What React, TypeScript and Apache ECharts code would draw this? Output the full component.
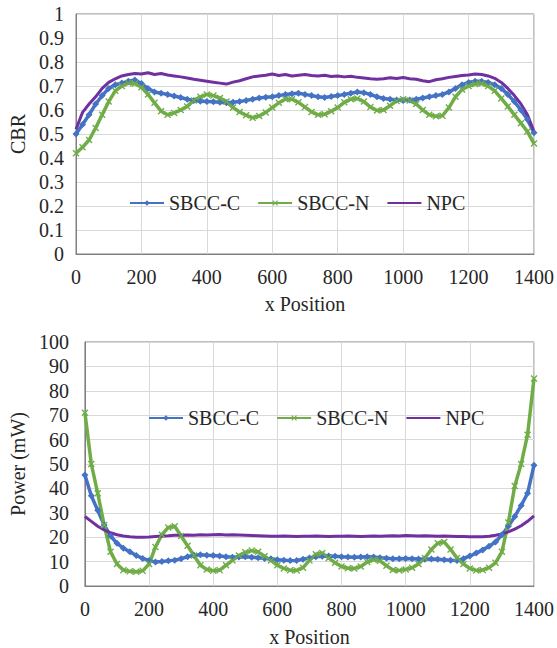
import React, { useEffect, useRef } from 'react';
import * as echarts from 'echarts';

const xPositions = [
  0, 20, 40, 60, 80, 100, 120, 140, 160, 180, 200, 220, 240, 260, 280, 300, 320, 340, 360, 380,
  400, 420, 440, 460, 480, 500, 520, 540, 560, 580, 600, 620, 640, 660, 680, 700, 720, 740, 760, 780,
  800, 820, 840, 860, 880, 900, 920, 940, 960, 980, 1000, 1020, 1040, 1060, 1080, 1100, 1120, 1140, 1160, 1180,
  1200, 1220, 1240, 1260, 1280, 1300, 1320, 1340, 1360, 1380, 1400,
];

const cbrSbccC = [
  0.50, 0.54, 0.58, 0.625, 0.66, 0.69, 0.705, 0.712, 0.72, 0.725, 0.71, 0.69, 0.675, 0.67, 0.665, 0.658, 0.652, 0.645, 0.64, 0.636,
  0.635, 0.634, 0.632, 0.63, 0.632, 0.635, 0.64, 0.645, 0.65, 0.653, 0.655, 0.66, 0.665, 0.668, 0.67, 0.665, 0.66, 0.655, 0.652, 0.656,
  0.66, 0.665, 0.67, 0.675, 0.672, 0.665, 0.655, 0.648, 0.645, 0.642, 0.64, 0.642, 0.645, 0.65, 0.655, 0.66, 0.665, 0.675, 0.69, 0.705,
  0.715, 0.72, 0.72, 0.715, 0.705, 0.69, 0.665, 0.635, 0.60, 0.56, 0.505,
];

const cbrSbccN = [
  0.42, 0.445, 0.475, 0.525, 0.58, 0.635, 0.68, 0.70, 0.712, 0.71, 0.695, 0.665, 0.63, 0.595, 0.58, 0.588, 0.60, 0.615, 0.64, 0.655,
  0.665, 0.66, 0.65, 0.635, 0.61, 0.592, 0.578, 0.568, 0.575, 0.59, 0.61, 0.63, 0.645, 0.645, 0.632, 0.612, 0.592, 0.58, 0.582, 0.595,
  0.61, 0.632, 0.645, 0.648, 0.635, 0.612, 0.598, 0.60, 0.618, 0.638, 0.645, 0.64, 0.625, 0.60, 0.58, 0.574, 0.576, 0.61, 0.655, 0.685,
  0.70, 0.708, 0.71, 0.70, 0.68, 0.648, 0.615, 0.58, 0.545, 0.51, 0.46,
];

const cbrNpc = [
  0.52, 0.59, 0.625, 0.655, 0.69, 0.715, 0.73, 0.742, 0.748, 0.752, 0.75, 0.755, 0.748, 0.752, 0.746, 0.742, 0.738, 0.733, 0.728, 0.724,
  0.72, 0.716, 0.712, 0.708, 0.716, 0.722, 0.73, 0.738, 0.742, 0.745, 0.75, 0.744, 0.748, 0.742, 0.745, 0.748, 0.744, 0.742, 0.745, 0.74,
  0.742, 0.738, 0.741, 0.736, 0.733, 0.73, 0.728, 0.73, 0.734, 0.731, 0.735, 0.73, 0.728, 0.722, 0.718, 0.726, 0.73, 0.736, 0.74, 0.744,
  0.746, 0.75, 0.748, 0.742, 0.732, 0.715, 0.69, 0.66, 0.625, 0.58, 0.51,
];

const powerSbccC = [
  45.5, 37, 31, 25, 20.5, 17.5, 15.5, 14, 12.5, 11.3, 10.5, 9.8, 10, 10.3, 10.6, 11.2, 12, 12.6, 12.8, 12.6,
  12.5, 12.3, 12, 11.8, 11.9, 12, 11.8, 11.6, 11.3, 11.2, 10.8, 10.6, 10.4, 10.5, 11, 11.5, 12, 12.2, 12.3, 12.2,
  12, 11.9, 11.8, 11.9, 12, 11.9, 11.6, 11.4, 11.2, 11.2, 11.3, 11.2, 11.1, 11, 11.1, 11, 10.8, 10.6, 10.5, 11.2,
  12.3, 13.5, 14.8, 16.3, 18, 21, 24.5, 28.5, 33, 38, 49.5,
];

const powerSbccN = [
  71, 50, 38, 25, 14, 9, 6.5, 6, 5.8, 6.2, 9, 16, 21, 24, 24.5, 20.5, 16.5, 12.5, 8.5, 6.8,
  6.3, 6.5, 8.5, 10.5, 12.5, 13.8, 14.5, 14, 12.2, 10.5, 8.5, 7.2, 6.5, 6.4, 7.5, 10.5, 13, 13.5, 11.5, 9.5,
  8, 7.3, 7.2, 8, 9.8, 10.8, 10.3, 8.3, 6.6, 6.4, 6.8, 7.5, 9, 11.5, 15, 17.5, 18, 15, 11.5, 9,
  7.2, 6.4, 6.6, 7.5, 9.5, 14, 26, 41, 50, 62, 85,
];

const powerNpc = [
  28.5, 26.5, 24.5, 23, 21.8, 21, 20.5, 20.2, 20, 20, 20.1, 20.3, 20.5, 20.6, 20.8, 20.8, 20.9, 20.8, 21, 20.9,
  21, 21.1, 20.9, 21, 20.9, 20.8, 20.7, 20.6, 20.5, 20.4, 20.4, 20.5, 20.4, 20.3, 20.4, 20.4, 20.5, 20.4, 20.3, 20.4,
  20.4, 20.5, 20.4, 20.3, 20.4, 20.5, 20.4, 20.5, 20.6, 20.5, 20.7, 20.6, 20.5, 20.6, 20.5, 20.4, 20.5, 20.4, 20.3, 20.3,
  20.2, 20.2, 20.2, 20.4, 20.8, 21.3, 22.2, 23.3, 24.7, 26.5, 28.7,
];

const seriesNames = ['SBCC-C', 'SBCC-N', 'NPC'];
const xTitle = 'x Position';
const yTitleTop = 'CBR';
const yTitleBottom = 'Power (mW)';

const COLORS = { c: '#4472C4', n: '#70AD47', p: '#7030A0' };
const FONT = 'Liberation Serif';
const FS = 20;
const TXT = '#262626';
const X_SYMBOL = 'path://M0,1.4 L1.4,0 L5,3.6 L8.6,0 L10,1.4 L6.4,5 L10,8.6 L8.6,10 L5,6.4 L1.4,10 L0,8.6 L3.6,5 Z';

const pairs = (ys: number[]) => xPositions.map((x, i) => [x, ys[i]]);

export default function App() {
  const ref = useRef<HTMLDivElement>(null);
  useEffect(() => {
    if (!ref.current) return;
    const chart = echarts.init(ref.current, undefined, { renderer: 'svg' });

    const xAxisBase = (gridIndex: number) => ({
      type: 'value',
      gridIndex,
      min: 0,
      max: 1400,
      interval: 200,
      name: xTitle,
      nameLocation: 'middle',
      nameGap: 40,
      nameTextStyle: { fontFamily: FONT, fontSize: FS, color: TXT },
      axisLine: { show: true, lineStyle: { color: '#7f7f7f', width: 1 } },
      axisTick: { show: false },
      axisLabel: { fontFamily: FONT, fontSize: FS, color: TXT, margin: 13, formatter: (v: number) => String(v) },
      splitLine: { show: true, lineStyle: { color: '#d9d9d9', width: 1 } },
    });

    const mkSeries = (xi: number, c: number[], n: number[], p: number[]) => [
      {
        name: seriesNames[0], type: 'line', xAxisIndex: xi, yAxisIndex: xi, data: pairs(c),
        symbol: 'diamond', symbolSize: 7, showSymbol: true,
        lineStyle: { color: COLORS.c, width: 3.5 }, itemStyle: { color: COLORS.c },
      },
      {
        name: seriesNames[1], type: 'line', xAxisIndex: xi, yAxisIndex: xi, data: pairs(n),
        symbol: X_SYMBOL, symbolSize: 7, showSymbol: true,
        lineStyle: { color: COLORS.n, width: 3.5 }, itemStyle: { color: COLORS.n },
      },
      {
        name: seriesNames[2], type: 'line', xAxisIndex: xi, yAxisIndex: xi, data: pairs(p),
        symbol: 'none',
        lineStyle: { color: COLORS.p, width: 3 }, itemStyle: { color: COLORS.p },
      },
    ];

    const legendBase = {
      data: [
        { name: seriesNames[0] },
        { name: seriesNames[1] },
        { name: seriesNames[2], itemStyle: { opacity: 0 } },
      ],
      orient: 'horizontal',
      itemWidth: 34,
      itemHeight: 7,
      itemGap: 17,
      lineStyle: { width: 2 },
      textStyle: { fontFamily: FONT, fontSize: FS, color: TXT },
    };

    chart.setOption({
      animation: false,
      backgroundColor: '#ffffff',
      textStyle: { fontFamily: FONT },
      grid: [
        { left: 75, top: 14, width: 461, height: 240, show: true, borderColor: '#7f7f7f', borderWidth: 1, backgroundColor: 'transparent' },
        { left: 77, top: 342, width: 459, height: 244, show: true, borderColor: '#7f7f7f', borderWidth: 1, backgroundColor: 'transparent' },
      ],
      legend: [
        { ...legendBase, left: 124, top: 188 },
        { ...legendBase, left: 143, top: 403 },
      ],
      xAxis: [xAxisBase(0), { ...xAxisBase(1), nameGap: 41 }],
      yAxis: [
        {
          type: 'value', gridIndex: 0, min: 0, max: 1, interval: 0.1,
          name: yTitleTop, nameLocation: 'middle', nameGap: 48,
          nameTextStyle: { fontFamily: FONT, fontSize: FS, color: TXT },
          axisLine: { show: true, lineStyle: { color: '#7f7f7f', width: 1 } },
          axisTick: { show: false },
          axisLabel: { fontFamily: FONT, fontSize: FS, color: TXT, margin: 12, formatter: (v: number) => String(+v.toFixed(1)) },
          splitLine: { show: true, lineStyle: { color: '#d9d9d9', width: 1 } },
        },
        {
          type: 'value', gridIndex: 1, min: 0, max: 100, interval: 10,
          name: yTitleBottom, nameLocation: 'middle', nameGap: 50,
          nameTextStyle: { fontFamily: FONT, fontSize: FS, color: TXT },
          axisLine: { show: true, lineStyle: { color: '#7f7f7f', width: 1 } },
          axisTick: { show: false },
          axisLabel: { fontFamily: FONT, fontSize: FS, color: TXT, margin: 16, formatter: (v: number) => String(v) },
          splitLine: { show: true, lineStyle: { color: '#d9d9d9', width: 1 } },
        },
      ],
      series: [
        ...mkSeries(0, cbrSbccC, cbrSbccN, cbrNpc),
        ...mkSeries(1, powerSbccC, powerSbccN, powerNpc),
      ],
    });
    return () => chart.dispose();
  }, []);
  return <div ref={ref} style={{ position: 'fixed', left: 0, top: 0, width: 557, height: 648 }} />;
}
